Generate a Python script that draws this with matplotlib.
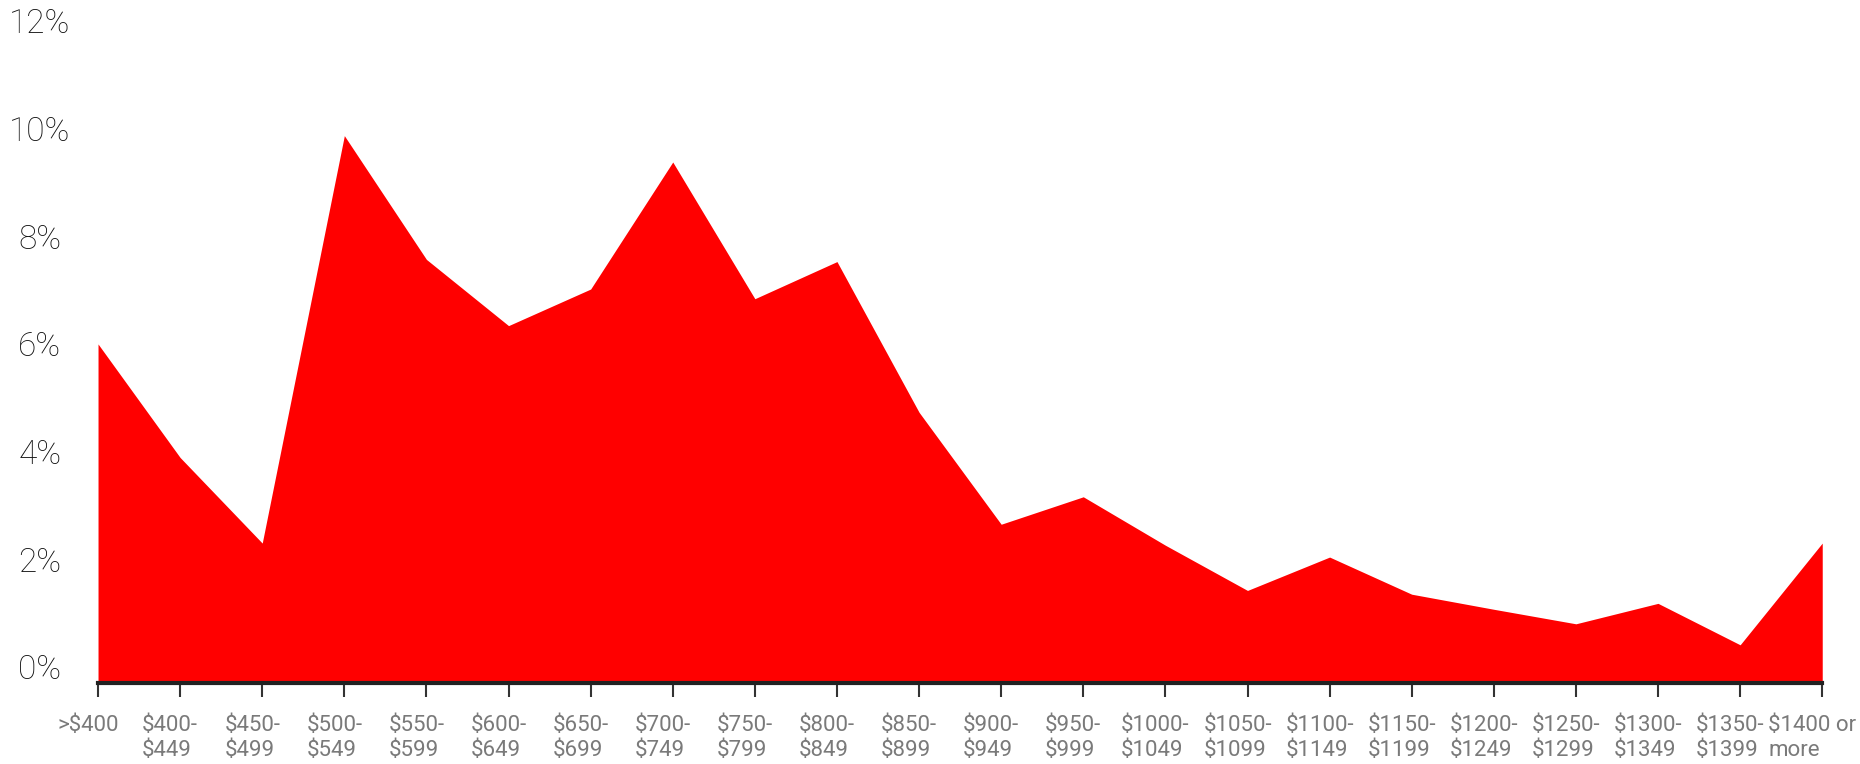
"""
Rent distribution area chart: share of listings per monthly price band
"""

import matplotlib.pyplot as plt
import matplotlib.transforms as mtransforms
import numpy as np

# price bands (x axis)
bands = [
    ">$400", "$400-\n$449", "$450-\n$499", "$500-\n$549", "$550-\n$599",
    "$600-\n$649", "$650-\n$699", "$700-\n$749", "$750-\n$799", "$800-\n$849",
    "$850-\n$899", "$900-\n$949", "$950-\n$999", "$1000-\n$1049",
    "$1050-\n$1099", "$1100-\n$1149", "$1150-\n$1199", "$1200-\n$1249",
    "$1250-\n$1299", "$1300-\n$1349", "$1350-\n$1399", "$1400 or\nmore",
]

# share of listings in each band (%)
share = [
    6.0, 3.89, 2.30, 9.87, 7.57, 6.34, 7.02, 9.38, 6.84, 7.53, 4.73,
    2.65, 3.16, 2.26, 1.42, 2.04, 1.35, 1.07, 0.80, 1.18, 0.41, 2.30,
]

y_ticks = [0, 2, 4, 6, 8, 10, 12]
y_labels = [f"{v}%" for v in y_ticks]

# 1860x764 pixels
fig = plt.figure(figsize=(18.6, 7.64), dpi=100)
ax = fig.add_axes([0.0527, 0.106, 0.927, 0.894])

x = np.arange(len(bands))
y_floor = -0.30

ax.fill_between(x, y_floor, share, color='#ff0000', linewidth=0)

ax.set_xlim(0, len(bands) - 1)
ax.set_ylim(y_floor, 12.39)

# 只保留底部轴线
for side in ['top', 'right', 'left']:
    ax.spines[side].set_visible(False)
ax.spines['bottom'].set_color('#222222')
ax.spines['bottom'].set_linewidth(3)
ax.spines['bottom'].set_zorder(5)

# y轴刻度标签
ax.set_yticks(y_ticks)
ax.set_yticklabels(y_labels, family=['Roboto', 'DejaVu Sans'], fontweight='light',
                   fontsize=24, color='#111111')
ax.tick_params(axis='y', length=0, pad=42)
for lbl in ax.get_yticklabels():
    lbl.set_horizontalalignment('center')

# x轴刻度标签
ax.set_xticks(x)
ax.set_xticklabels(bands, family=['Liberation Sans Narrow', 'Roboto', 'DejaVu Sans'],
                   fontsize=16, color='#7a7a7a', linespacing=1.25,
                   multialignment='left')
ax.tick_params(axis='x', length=10, width=1.5, color='#333333', pad=13)

# 标签整体略向左偏移
shift = mtransforms.ScaledTranslation(-10 / 100, 0, fig.dpi_scale_trans)
for lbl in ax.get_xticklabels():
    lbl.set_transform(lbl.get_transform() + shift)

plt.savefig('out.png', dpi=100)
plt.close()
